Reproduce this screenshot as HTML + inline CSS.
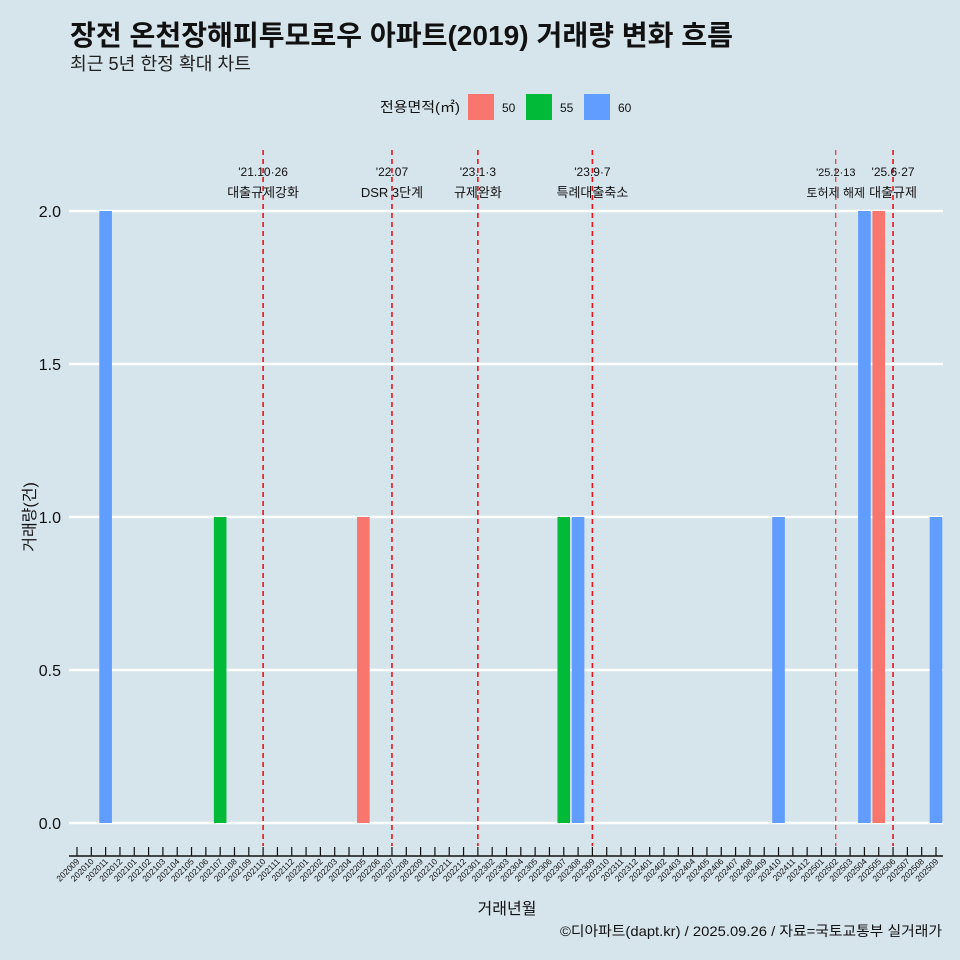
<!DOCTYPE html>
<html><head><meta charset="utf-8">
<style>
html,body{margin:0;padding:0;background:#d6e4eb;}
svg{display:block;font-family:"Liberation Sans","Noto Sans CJK KR",sans-serif;}
</style></head>
<body>
<svg id="chart" width="960" height="960" viewBox="0 0 960 960">
<rect width="960" height="960" fill="#d6e4eb"/>
<text x="70" y="45" font-size="28" font-weight="bold" fill="#111" textLength="663" lengthAdjust="spacingAndGlyphs">장전 온천장해피투모로우 아파트(2019) 거래량 변화 흐름</text>
<text x="70" y="70" font-size="18" fill="#222" textLength="181" lengthAdjust="spacingAndGlyphs">최근 5년 한정 확대 차트</text>
<g>
<text x="380" y="112" font-size="14" fill="#111" textLength="80" lengthAdjust="spacingAndGlyphs">전용면적(㎡)</text>
<rect x="468" y="94" width="26" height="26" fill="#F8766D"/>
<text x="502" y="112" font-size="12" fill="#111">50</text>
<rect x="526" y="94" width="26" height="26" fill="#00BA38"/>
<text x="560" y="112" font-size="12" fill="#111">55</text>
<rect x="584" y="94" width="26" height="26" fill="#619CFF"/>
<text x="618" y="112" font-size="12" fill="#111">60</text>
</g>
<g id="grid"></g><g id="bars"></g><g id="vlines"></g><g id="axis"></g>
<text x="507" y="914" font-size="16" text-anchor="middle" fill="#111">거래년월</text>
<text transform="translate(35,517) rotate(-90)" font-size="16" text-anchor="middle" fill="#111">거래량(건)</text>
<text x="942" y="936" font-size="14" text-anchor="end" fill="#111" textLength="382" lengthAdjust="spacingAndGlyphs">©디아파트(dapt.kr) / 2025.09.26 / 자료=국토교통부 실거래가</text>
</svg>
<script>
const categories=[];for(let y=2020,m=9;!(y===2025&&m===10);){categories.push(y+String(m).padStart(2,'0'));m++;if(m>12){m=1;y++;}}
const barMonths=['202011','202107','202205','202307','202308','202410','202504','202505','202509'];
const barAreas=['60','55','50','55','60','60','60','50','60'];
const barValues=[2,1,1,1,1,1,2,2,1];
const yTicks=[0,0.5,1,1.5,2];
const yTickLabels=['0.0','0.5','1.0','1.5','2.0'];
const eventMonths=['202110','202207','202301','202309','202502','202506'];
const eventDates=["'21.10·26","'22.07","'23.1·3","'23.9·7","'25.2·13","'25.6·27"];
const eventLabels=['대출규제강화','DSR 3단계','규제완화','특례대출축소','토허제 해제','대출규제'];
const colors={'50':'#F8766D','55':'#00BA38','60':'#619CFF'};
const NS='http://www.w3.org/2000/svg';
const x0=77,x1=936;
const xs=i=>x0+(x1-x0)*i/(categories.length-1);
const xm=m=>xs(categories.indexOf(m));
const ys=v=>823-306*v;
function mk(tag,attrs,parent){const e=document.createElementNS(NS,tag);for(const k in attrs)e.setAttribute(k,attrs[k]);document.getElementById(parent).appendChild(e);return e;}
yTicks.forEach((t,i)=>{
 const l=mk('line',{x1:69,x2:943,y1:ys(t),y2:ys(t),stroke:'#fff','stroke-width':2.5},'grid');
 
 
 const tx=mk('text',{x:61,y:ys(t)+6,'font-size':16,'text-anchor':'end',fill:'#111'},'grid');tx.textContent=yTickLabels[i];
 
 
});
barMonths.forEach((m,i)=>{
 const cx=xm(m);
 const r=mk('rect',{x:cx-6.3,y:ys(barValues[i]),width:12.6,height:ys(0)-ys(barValues[i]),fill:colors[barAreas[i]]},'bars');
 
 
});
eventMonths.forEach((m,i)=>{
 const cx=xm(m);const thin=m==='202502';
 const l=mk('line',{x1:cx,x2:cx,y1:150,y2:846,stroke:'#e8141c','stroke-width':thin?1:1.6,'stroke-dasharray':'5,4'},'vlines');
 
 
 const fs=thin?11:12;
 const t1=mk('text',{x:cx,y:176,'font-size':fs,'text-anchor':'middle',fill:'#111'},'vlines');t1.textContent=eventDates[i];
 
 
 const t2=mk('text',{x:cx,y:197,'font-size':fs+1,'text-anchor':'middle',fill:'#111'},'vlines');t2.textContent=eventLabels[i];
 
 
});
const ax=mk('line',{x1:69,x2:943,y1:856,y2:856,stroke:'#111','stroke-width':1.5},'axis');


categories.forEach((c,i)=>{
 const x=xs(i);
 const t=mk('line',{x1:x,x2:x,y1:847,y2:856,stroke:'#111','stroke-width':1.2},'axis');
 
 
 const tx=mk('text',{transform:'translate('+(x+3)+',862) rotate(-45)','font-size':8.5,'text-anchor':'end',fill:'#111'},'axis');tx.textContent=c;
 
 
});
</script>
</body></html>
